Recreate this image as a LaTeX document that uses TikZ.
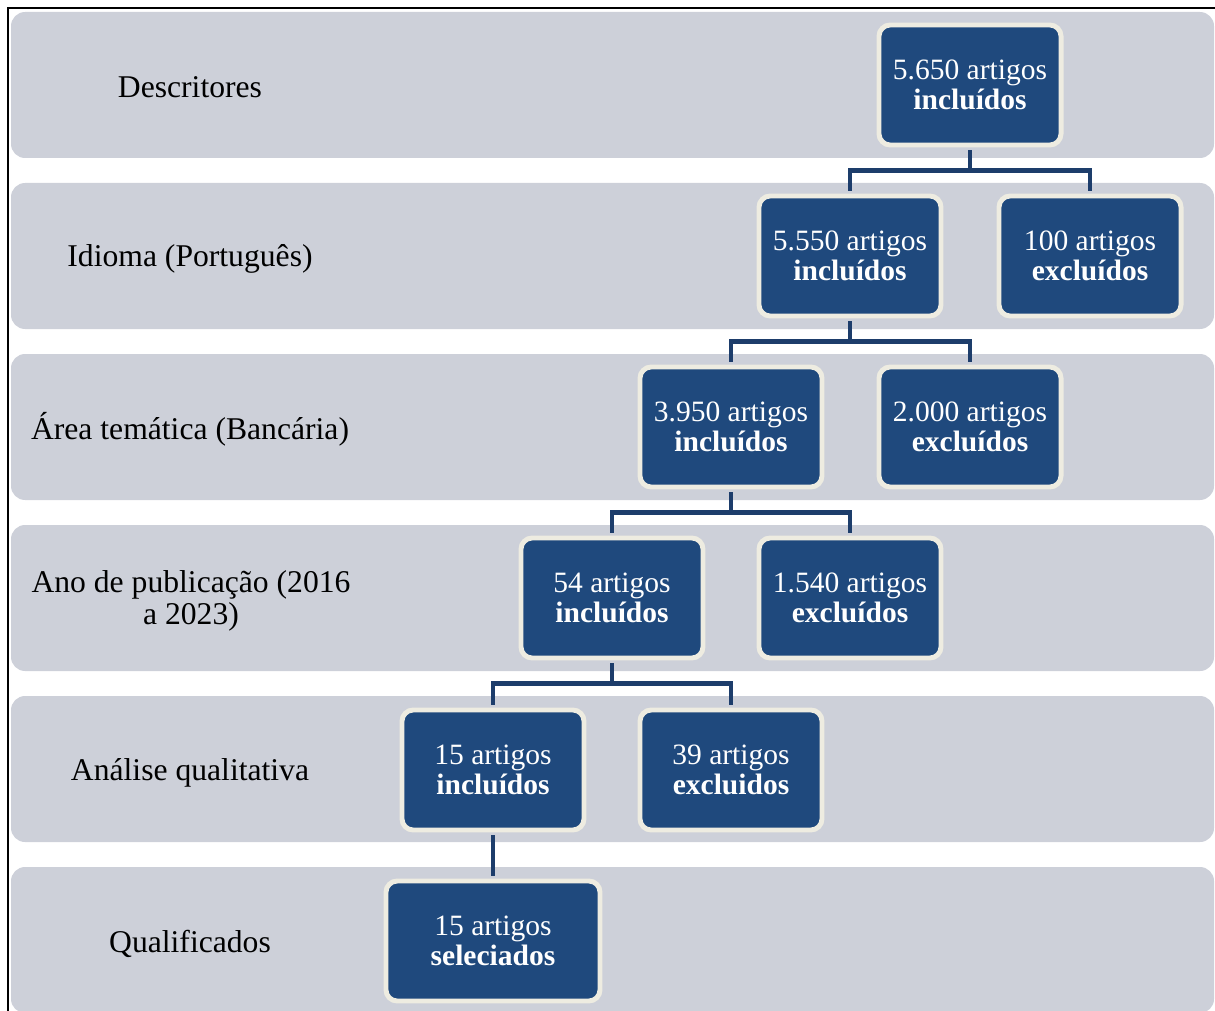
\documentclass[tikz,border=0pt]{standalone}
\usepackage{fontspec}
\setmainfont{Liberation Serif}
\usetikzlibrary{calc}
\definecolor{bandgray}{RGB}{205,208,217}
\definecolor{boxblue}{RGB}{31,73,125}
\definecolor{boxrim}{RGB}{238,236,225}
\definecolor{linkblue}{RGB}{29,61,107}

\begin{document}
\begin{tikzpicture}[x=0.025cm, y=-0.025cm,
    every node/.style={font=\fontsize{21}{21.5}\selectfont},
    band/.style={fill=bandgray, rounded corners=10pt},
    stepbox/.style={draw=boxrim, fill=boxblue, line width=3.5pt, rounded corners=8pt,
        text=white, minimum width=4.55cm, minimum height=3cm, align=center, inner sep=2pt},
    rowlabel/.style={align=center, font=\fontsize{22.5}{23}\selectfont},
    link/.style={draw=linkblue, line width=3pt, shorten <=1.8pt, shorten >=1.8pt}]
    \useasboundingbox (0,0) rectangle (1215,1011);

    % frame
    \draw[line width=1.5pt] (8,1011) -- (8,8) -- (1215,8);

    % bands
    \foreach \y in {12,183,354,525,696,867}
        \fill[band] (11,\y) rectangle (1214,\y+146);

    % row labels
    \node[rowlabel] (l1) at (190,87) {Descritores};
    \node[rowlabel] (l2) at (190,259) {Idioma (Português)};
    \node[rowlabel] (l3) at (190,429) {Área temática (Bancária)};
    \node[rowlabel] (l4) at (191,601) {Ano de publicação (2016\\a 2023)};
    \node[rowlabel] (l5) at (190,773) {Análise qualitativa};
    \node[rowlabel] (l6) at (190,944) {Qualificados};

    % boxes
    \node[stepbox] (d1) at (970,85) {5.650 artigos\\\textbf{incluídos}};
    \node[stepbox] (i1) at (850,256) {5.550 artigos\\\textbf{incluídos}};
    \node[stepbox] (i2) at (1090,256) {100 artigos\\\textbf{excluídos}};
    \node[stepbox] (a1) at (731,427) {3.950 artigos\\\textbf{incluídos}};
    \node[stepbox] (a2) at (970,427) {2.000 artigos\\\textbf{excluídos}};
    \node[stepbox] (p1) at (612,598) {54 artigos\\\textbf{incluídos}};
    \node[stepbox] (p2) at (850,598) {1.540 artigos\\\textbf{excluídos}};
    \node[stepbox] (q1) at (493,770) {15 artigos\\\textbf{incluídos}};
    \node[stepbox] (q2) at (731,770) {39 artigos\\\textbf{excluidos}};
    \node[stepbox, minimum width=5.35cm] (s1) at (493,941) {15 artigos\\\textbf{seleciados}};

    % links
    \draw[link] (d1.south) -- ++(0,23) -| (i1.north);
    \draw[link] (d1.south) -- ++(0,23) -| (i2.north);
    \draw[link] (i1.south) -- ++(0,23) -| (a1.north);
    \draw[link] (i1.south) -- ++(0,23) -| (a2.north);
    \draw[link] (a1.south) -- ++(0,23) -| (p1.north);
    \draw[link] (a1.south) -- ++(0,23) -| (p2.north);
    \draw[link] (p1.south) -- ++(0,23) -| (q1.north);
    \draw[link] (p1.south) -- ++(0,23) -| (q2.north);
    \draw[link] (q1.south) -- (s1.north);
\end{tikzpicture}
\end{document}
